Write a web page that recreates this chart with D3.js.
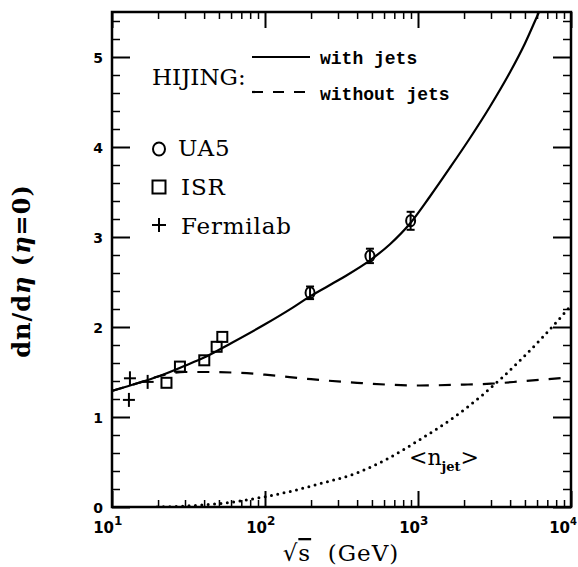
<!DOCTYPE html>
<html><head><meta charset="utf-8">
<script src="https://cdn.jsdelivr.net/npm/d3@7"></script>
<style>body{margin:0;background:#fff}</style>
</head><body><svg id="c" width="578" height="567"></svg>
<script>
// ---- data ----
const withJetsX = [10,15,20,30,40,60,100,150,197,309,485,656,887,1197,1618,2188,2958,3993,5000,5997,6765];
const withJetsY = [1.29,1.38,1.45,1.57,1.66,1.82,2.03,2.21,2.34,2.53,2.74,2.92,3.15,3.45,3.77,4.10,4.45,4.83,5.15,5.45,5.65];
const withoutJetsX = [10,15,20,25,30,40,70,100,200,400,1000,2000,3000,5000,10000];
const withoutJetsY = [1.29,1.38,1.45,1.49,1.50,1.50,1.49,1.47,1.42,1.38,1.35,1.36,1.37,1.40,1.44];
const nJetX = [19.7,37.6,59.1,96.6,152,218,400,624,1030,1695,2660,4850,8690,10000];
const nJetY = [0.0,0.02,0.05,0.11,0.18,0.25,0.38,0.53,0.75,0.99,1.25,1.66,2.12,2.24];
const ua5X = [197,485,895];
const ua5Y = [2.38,2.79,3.18];
const ua5Err = [0.07,0.08,0.10];
const isrX = [22.7,27.8,40.1,48.3,52.6];
const isrY = [1.38,1.56,1.63,1.78,1.89];
const fermiX = [13.1,12.9,17.1];
const fermiY = [1.43,1.19,1.39];
const xMajor = [10,100,1000,10000];
const xExp = ["1","2","3","4"];
const yMajor = [0,1,2,3,4,5];
const legendLines = ["with jets","without jets"];
const legendMarks = ["UA5","ISR","Fermilab"];

// ---- layout ----
const L=112, R=571, T=12, B=507;
const x = d3.scaleLog().domain([10,10000]).range([L,R]);
const y = d3.scaleLinear().domain([0,5.5]).range([B,T]);
const svg = d3.select('#c');
svg.append('rect').attr('width',578).attr('height',567).attr('fill','#fff');
svg.append('defs').append('clipPath').attr('id','clip')
  .append('rect').attr('x',L).attr('y',T).attr('width',R-L).attr('height',B-T);

const xMinor=[]; for(let d=10; d<10000; d*=10) for(let k=2;k<=9;k++) xMinor.push(d*k);
const yMinor=d3.range(1,28).map(i=>+(i*0.2).toFixed(1)).filter(v=>Math.abs(v-Math.round(v))>1e-6);

function styleAxis(g,w){ g.select('.domain').remove(); g.selectAll('line').attr('stroke','#000').attr('stroke-width',w); }

svg.append('g').attr('transform',`translate(0,${B})`).call(d3.axisBottom(x).tickValues(xMajor).tickSize(-16).tickFormat('')).call(g=>styleAxis(g,2));
svg.append('g').attr('transform',`translate(0,${B})`).call(d3.axisBottom(x).tickValues(xMinor).tickSize(-7).tickFormat('')).call(g=>styleAxis(g,1.5));
svg.append('g').attr('transform',`translate(0,${T})`).call(d3.axisTop(x).tickValues(xMajor).tickSize(-16).tickFormat('')).call(g=>styleAxis(g,2));
svg.append('g').attr('transform',`translate(0,${T})`).call(d3.axisTop(x).tickValues(xMinor).tickSize(-7).tickFormat('')).call(g=>styleAxis(g,1.5));
const yl = svg.append('g').attr('transform',`translate(${L},0)`).call(d3.axisLeft(y).tickValues(yMajor).tickSize(-18).tickPadding(9).tickFormat(d3.format('d'))).call(g=>styleAxis(g,2));
yl.selectAll('text').attr('font-family','DejaVu Sans').attr('font-weight','bold').attr('font-size',14).attr('fill','#000').attr('dy','0.42em');
svg.append('g').attr('transform',`translate(${L},0)`).call(d3.axisLeft(y).tickValues(yMinor).tickSize(-8).tickFormat('')).call(g=>styleAxis(g,1.5));
svg.append('g').attr('transform',`translate(${R},0)`).call(d3.axisRight(y).tickValues(yMajor).tickSize(-18).tickFormat('')).call(g=>styleAxis(g,2));
svg.append('g').attr('transform',`translate(${R},0)`).call(d3.axisRight(y).tickValues(yMinor).tickSize(-8).tickFormat('')).call(g=>styleAxis(g,1.5));

// x tick labels 10^n
const xl = svg.append('g').attr('font-family','DejaVu Sans').attr('font-weight','bold').attr('fill','#000');
xMajor.forEach((v,i)=>{
  const last = i===xMajor.length-1;
  const ax = x(v)+(last?-1:2);
  xl.append('text').attr('x',ax).attr('y',533).attr('text-anchor','end').attr('font-size',15).text('10');
  xl.append('text').attr('x',ax).attr('y',525).attr('text-anchor','start').attr('font-size',last?10:12).text(xExp[i]);
});

// frame
svg.append('rect').attr('x',L).attr('y',T).attr('width',R-L).attr('height',B-T)
  .attr('fill','none').attr('stroke','#000').attr('stroke-width',2.5);

// curves
const line = (xs,ys)=>d3.line().x(d=>x(d[0])).y(d=>y(d[1])).curve(d3.curveMonotoneX)(xs.map((v,i)=>[v,ys[i]]));
const plot = svg.append('g').attr('clip-path','url(#clip)');
plot.append('path').attr('d',line(withJetsX,withJetsY)).attr('fill','none').attr('stroke','#000').attr('stroke-width',2.2);
plot.append('path').attr('d',line(withoutJetsX,withoutJetsY)).attr('fill','none').attr('stroke','#000').attr('stroke-width',2.2).attr('stroke-dasharray','12,10');
plot.append('path').attr('d',line(nJetX,nJetY)).attr('fill','none').attr('stroke','#000').attr('stroke-width',3).attr('stroke-linecap','round').attr('stroke-dasharray','0,6.4');

// data markers
const mk = svg.append('g').attr('fill','none').attr('stroke','#000').attr('stroke-width',2);
ua5X.forEach((v,i)=>{
  const cx=x(v), cy=y(ua5Y[i]), e1=y(ua5Y[i]+ua5Err[i]), e2=y(ua5Y[i]-ua5Err[i]);
  mk.append('line').attr('x1',cx).attr('x2',cx).attr('y1',e1).attr('y2',e2);
  mk.append('line').attr('x1',cx-4).attr('x2',cx+4).attr('y1',e1).attr('y2',e1);
  mk.append('line').attr('x1',cx-4).attr('x2',cx+4).attr('y1',e2).attr('y2',e2);
  mk.append('ellipse').attr('cx',cx).attr('cy',cy).attr('rx',4.5).attr('ry',5.5);
});
isrX.forEach((v,i)=>{
  mk.append('rect').attr('x',x(v)-5).attr('y',y(isrY[i])-5).attr('width',10).attr('height',10);
});
fermiX.forEach((v,i)=>{
  const cx=x(v), cy=y(fermiY[i]);
  mk.append('line').attr('x1',cx-6).attr('x2',cx+6).attr('y1',cy).attr('y2',cy);
  mk.append('line').attr('x1',cx).attr('x2',cx).attr('y1',cy-7).attr('y2',cy+7);
});

// legend
const lg = svg.append('g');
lg.append('text').attr('x',152).attr('y',85).attr('font-family','DejaVu Serif').attr('font-size',23).text('HIJING:');
lg.append('line').attr('x1',252).attr('x2',310).attr('y1',57).attr('y2',57).attr('stroke','#000').attr('stroke-width',2.2);
lg.append('line').attr('x1',252).attr('x2',310).attr('y1',92).attr('y2',92).attr('stroke','#000').attr('stroke-width',2.2).attr('stroke-dasharray','11,10');
lg.selectAll('text.ll').data(legendLines).enter().append('text').attr('class','ll')
  .attr('x',320).attr('y',(d,i)=>[64,100][i]).attr('font-family','Liberation Mono').attr('font-weight','bold').attr('font-size',18).text(d=>d);
const mky=[149,187,225];
lg.append('ellipse').attr('cx',159).attr('cy',mky[0]).attr('rx',6).attr('ry',6.5).attr('fill','none').attr('stroke','#000').attr('stroke-width',2);
lg.append('rect').attr('x',152.5).attr('y',mky[1]-6.5).attr('width',13).attr('height',13).attr('fill','none').attr('stroke','#000').attr('stroke-width',2);
lg.append('line').attr('x1',152).attr('x2',166).attr('y1',mky[2]).attr('y2',mky[2]).attr('stroke','#000').attr('stroke-width',2);
lg.append('line').attr('x1',159).attr('x2',159).attr('y1',mky[2]-7).attr('y2',mky[2]+7).attr('stroke','#000').attr('stroke-width',2);
lg.selectAll('text.lm').data(legendMarks).enter().append('text').attr('class','lm')
  .attr('x',(d,i)=>[178,181,181][i]).attr('y',(d,i)=>[156,195,234][i]).attr('font-family','DejaVu Serif').attr('font-size',23).attr('letter-spacing',0.8).text(d=>d);

// <n_jet> label
const nj = svg.append('text').attr('x',409).attr('y',465).attr('font-family','DejaVu Serif').attr('font-size',22);
nj.append('tspan').text('<n');
nj.append('tspan').attr('font-size',13).attr('font-weight','bold').attr('dy',6).text('jet');
nj.append('tspan').attr('dy',-6).text('>');

// axis titles
const xt = svg.append('text').attr('x',341).attr('y',561).attr('text-anchor','middle').attr('font-family','DejaVu Serif').attr('font-size',23).attr('letter-spacing',1);
xt.append('tspan').text('√');
xt.append('tspan').style('text-decoration','overline').text('s');
xt.append('tspan').text('\u00a0 (GeV)');
const yt = svg.append('text').attr('transform','translate(30,271) rotate(-90)').attr('text-anchor','middle')
  .attr('font-family','DejaVu Serif').attr('font-weight','bold').attr('font-size',24).attr('letter-spacing',1);
yt.append('tspan').text('dn/d');
yt.append('tspan').attr('font-style','italic').text('η');
yt.append('tspan').text(' (');
yt.append('tspan').attr('font-style','italic').text('η');
yt.append('tspan').text('=0)');
</script></body></html>
